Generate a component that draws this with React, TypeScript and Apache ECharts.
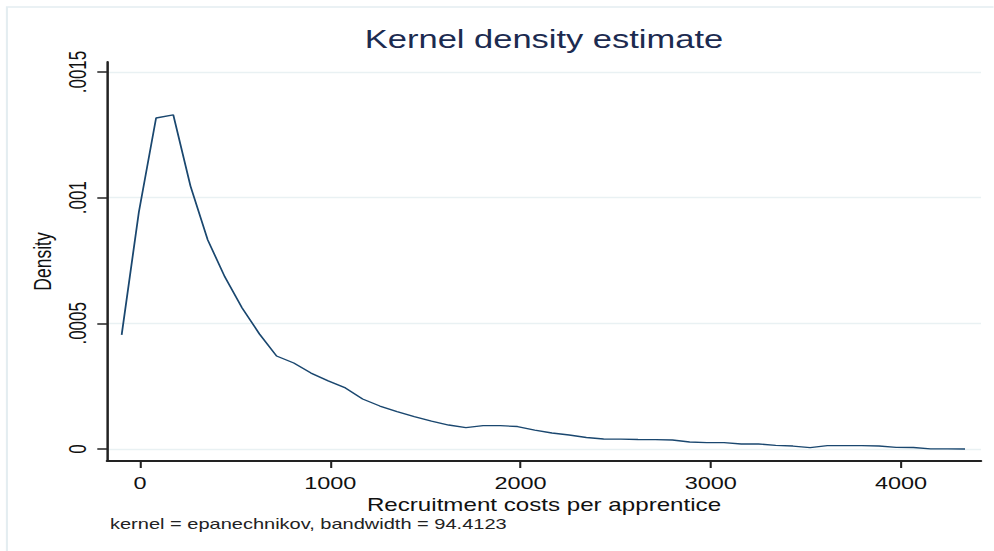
import React, { useEffect, useRef } from "react";
import * as echarts from "echarts";

// Evaluation grid of the density estimate (recruitment costs) and the estimated densities
const costGrid = [
  -96.2, -5.7, 84.7, 175.2, 265.6, 356.1, 446.6, 537.0, 627.5, 717.9,
  808.4, 898.9, 989.3, 1079.8, 1170.2, 1260.7, 1351.2, 1441.6, 1532.1, 1622.5,
  1713.0, 1803.5, 1893.9, 1984.4, 2074.8, 2165.3, 2255.8, 2346.2, 2436.7, 2527.1,
  2617.6, 2708.1, 2798.5, 2889.0, 2979.4, 3069.9, 3160.4, 3250.8, 3341.3, 3431.7,
  3522.2, 3612.7, 3703.1, 3793.6, 3884.0, 3974.5, 4065.0, 4155.4, 4245.9, 4336.3,
];
const densities = [
  0.000454, 0.000943, 0.001317, 0.001329, 0.001046, 0.000832, 0.000684, 0.000561, 0.000458, 0.00037,
  0.000342, 0.000302, 0.000271, 0.000243, 0.000199, 0.000171, 0.000149, 0.000129, 0.000111, 0.0000955,
  0.0000848, 0.0000927, 0.0000927, 0.0000895, 0.0000756, 0.0000637, 0.0000557, 0.0000458, 0.0000398, 0.000039,
  0.0000378, 0.000037, 0.0000358, 0.0000279, 0.0000251, 0.0000251, 0.0000199, 0.0000199, 0.0000147, 0.0000119,
  0.0000052, 0.0000131, 0.0000131, 0.0000131, 0.0000119, 0.0000068, 0.000006, 0.0000005, 0.0000003, 0.0000001,
];

const xTickValues = [0, 1000, 2000, 3000, 4000];
const xTickLabels = ["0", "1000", "2000", "3000", "4000"];
const yTickValues = [0, 0.0005, 0.001, 0.0015];
const yTickLabels = ["0", ".0005", ".001", ".0015"];

const titleText = "Kernel density estimate";
const xAxisTitle = "Recruitment costs per apprentice";
const yAxisTitle = "Density";
const noteText = "kernel = epanechnikov, bandwidth = 94.4123";

// The chart is laid out at a narrower width and stretched horizontally
const STRETCH = 1.38;
const INNER_W = 720;
const INNER_H = 551;

const FONT = "'Liberation Sans', Arial, sans-serif";

export default function App() {
  const ref = useRef<HTMLDivElement>(null);

  useEffect(() => {
    document.documentElement.style.overflow = "hidden";
    document.body.style.overflow = "hidden";
    if (!ref.current) return;
    const chart = echarts.init(ref.current, undefined, { renderer: "svg" });

    const labelFor = (values: number[], labels: string[]) => (v: number) => {
      const i = values.findIndex((t) => Math.abs(t - v) < 1e-9);
      return i >= 0 ? labels[i] : "";
    };

    chart.setOption({
      animation: false,
      backgroundColor: "#ffffff",
      grid: { left: 77.5, right: 9.1, top: 62, bottom: 90, containLabel: false },
      graphic: [
        {
          type: "rect",
          shape: { x: 5, y: 7, width: 900, height: 700 },
          style: { fill: "none", stroke: "#e4edf1", lineWidth: 1.5 },
          silent: true,
          z: -1,
        },
        {
          type: "text",
          x: 394.2,
          y: 27,
          style: {
            text: titleText,
            fill: "#1c2b50",
            font: `25px ${FONT}`,
            textAlign: "center",
            textVerticalAlign: "top",
          },
        },
        {
          type: "text",
          x: 79.7,
          y: 516.5,
          style: {
            text: noteText,
            fill: "#222222",
            font: `14.5px ${FONT}`,
            textAlign: "left",
            textVerticalAlign: "top",
          },
        },
      ],
      xAxis: {
        type: "value",
        min: -173.5,
        max: 4420.5,
        name: xAxisTitle,
        nameLocation: "middle",
        nameGap: 30,
        nameTextStyle: { fontFamily: FONT, fontSize: 17.5, color: "#111111" },
        axisLine: { show: true, onZero: false, lineStyle: { color: "#222222", width: 1.8 } },
        axisTick: { show: true, length: 7, customValues: xTickValues, lineStyle: { color: "#222222", width: 1.5 } },
        axisLabel: {
          customValues: xTickValues,
          margin: 13,
          fontFamily: FONT,
          fontSize: 17,
          color: "#111111",
          formatter: labelFor(xTickValues, xTickLabels),
        },
        splitLine: { show: false },
      },
      yAxis: {
        type: "value",
        min: -0.0000477,
        max: 0.0015398,
        name: yAxisTitle,
        nameLocation: "middle",
        nameGap: 34,
        nameRotate: 90,
        nameTextStyle: { fontFamily: FONT, fontSize: 17.5, color: "#111111" },
        axisLine: { show: true, onZero: false, lineStyle: { color: "#222222", width: 1.8 } },
        axisTick: { show: true, length: 7, customValues: yTickValues, lineStyle: { color: "#222222", width: 1.5 } },
        axisLabel: {
          customValues: yTickValues,
          rotate: 90,
          margin: 13,
          fontFamily: FONT,
          fontSize: 17,
          color: "#111111",
          formatter: labelFor(yTickValues, yTickLabels),
        },
        splitLine: { show: true, lineStyle: { color: "#e9f1f3", width: 1.3 } },
      },
      series: [
        {
          type: "line",
          data: costGrid.map((x, i) => [x, densities[i]]),
          showSymbol: false,
          symbol: "none",
          lineStyle: { color: "#1a476f", width: 1.3 },
          silent: true,
        },
      ],
    });

    return () => chart.dispose();
  }, []);

  return (
    <div
      ref={ref}
      style={{
        position: "absolute",
        left: 0,
        top: 0,
        width: INNER_W,
        height: INNER_H,
        transform: `scaleX(${STRETCH})`,
        transformOrigin: "0 0",
      }}
    />
  );
}
